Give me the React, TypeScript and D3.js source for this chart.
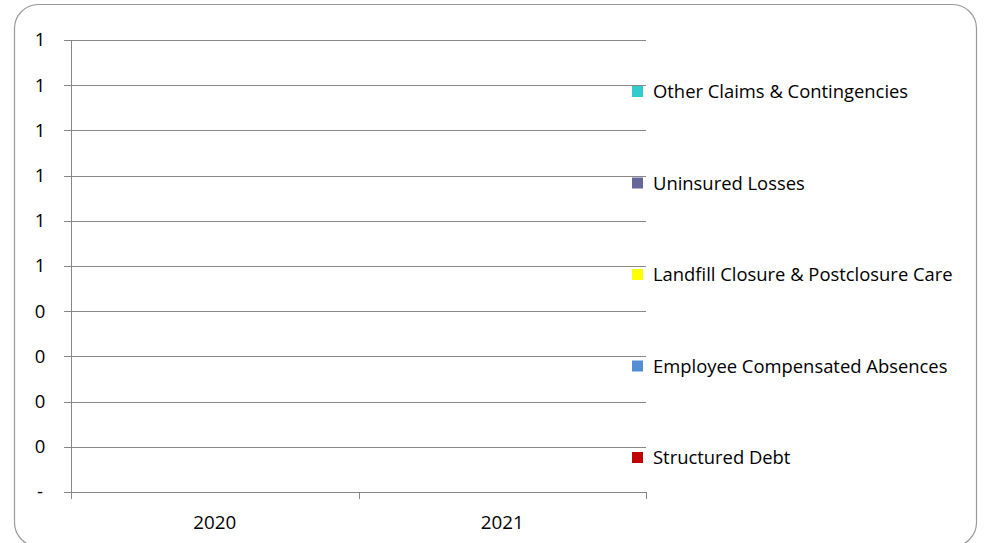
import React from "react";
import * as d3 from "d3";

const categories = ["2020", "2021"];
const seriesNames = [
  "Structured Debt",
  "Employee Compensated Absences",
  "Landfill Closure & Postclosure Care",
  "Uninsured Losses",
  "Other Claims & Contingencies",
];
const seriesColors = ["#C00000", "#558ED5", "#FFFF00", "#666699", "#33CCCC"];
const structuredDebt = [0, 0];
const employeeAbsences = [0, 0];
const landfillCare = [0, 0];
const uninsuredLosses = [0, 0];
const otherClaims = [0, 0];
const yTicks = [0, 0.1, 0.2, 0.3, 0.4, 0.5, 0.6, 0.7, 0.8, 0.9, 1.0];

const W = 987;
const H = 543;
const plot = { left: 71, right: 646, top: 40, bottom: 492 };
const FONT = "'Open Sans', 'Liberation Sans', sans-serif";

export default function App() {
  const series = [structuredDebt, employeeAbsences, landfillCare, uninsuredLosses, otherClaims];
  const x = d3.scaleBand().domain(categories).range([plot.left, plot.right]).paddingInner(0.5).paddingOuter(0.25);
  const xOuter = d3.scaleBand().domain(categories).range([plot.left, plot.right]);
  const y = d3.scaleLinear().domain([0, 1]).range([plot.bottom, plot.top]);
  const fmt = (v: number) => (v === 0 ? "-" : d3.format(".0f")(Math.round(v + 1e-9)));

  const rows = categories.map((c, i) => {
    const o: any = { cat: c };
    seriesNames.forEach((s, j) => (o[s] = series[j][i]));
    return o;
  });
  const stacked = d3.stack().keys(seriesNames)(rows);

  const legendY = d3.scalePoint().domain([...seriesNames].reverse()).range([92, 458]);

  return (
    <svg width={W} height={H} style={{ position: "absolute", left: 0, top: 0, background: "#fff" }}>
      <rect x={14.5} y={4.5} width={962} height={542} rx={24} ry={24} fill="#fff" stroke="#9a9a9a" strokeWidth={1.2} />
      {yTicks.map((t) => (
        <g key={t}>
          <line x1={plot.left - 7} x2={plot.right} y1={Math.round(y(t)) + 0.5} y2={Math.round(y(t)) + 0.5} stroke="#888" strokeWidth={1} />
          <text x={40} y={y(t)} dy="0.35em" textAnchor="middle" fontFamily={FONT} fontSize={18.5} fill="#000">
            {fmt(t)}
          </text>
        </g>
      ))}
      <line x1={plot.left + 0.5} x2={plot.left + 0.5} y1={plot.top} y2={plot.bottom} stroke="#888" />
      {[...categories.map((c) => xOuter(c)!), plot.right].map((px, i) => (
        <line key={i} x1={Math.round(px) + 0.5} x2={Math.round(px) + 0.5} y1={plot.bottom} y2={plot.bottom + 7} stroke="#888" />
      ))}
      {categories.map((c) => (
        <text key={c} x={xOuter(c)! + xOuter.bandwidth() / 2} y={522} dy="0.35em" textAnchor="middle" fontFamily={FONT} fontSize={18.8} fill="#000">
          {c}
        </text>
      ))}
      {stacked.map((s, j) => (
        <g key={s.key} fill={seriesColors[j]}>
          {s.map((d, i) => (
            <rect key={i} x={x(categories[i])} width={x.bandwidth()} y={y(d[1])} height={y(d[0]) - y(d[1])} />
          ))}
        </g>
      ))}
      {seriesNames.map((s, j) => (
        <g key={s} transform={`translate(632, ${legendY(s)})`}>
          <rect x={0} y={-6} width={11} height={11} fill={seriesColors[j]} />
          <text x={21} y={0} dy="0.35em" fontFamily={FONT} fontSize={18.4} fill="#000">
            {s}
          </text>
        </g>
      ))}
    </svg>
  );
}
